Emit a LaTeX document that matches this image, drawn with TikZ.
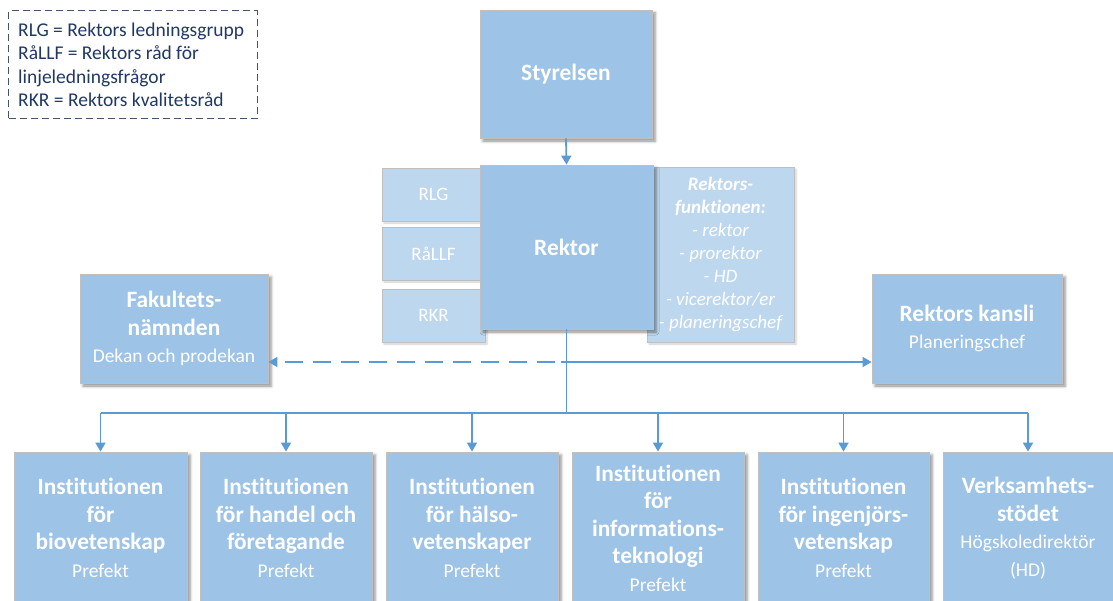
\documentclass[tikz,border=0pt]{standalone}
\usepackage{fontspec}
\setmainfont{Carlito}[Ligatures=NoCommon]
\usetikzlibrary{arrows.meta,shadows.blur}
\definecolor{mainblue}{HTML}{9DC3E6}
\definecolor{lightblue}{HTML}{BDD7EE}
\definecolor{boxline}{HTML}{BFBFBF}
\definecolor{arrowblue}{HTML}{5B9BD5}
\definecolor{legendline}{HTML}{44546A}
\definecolor{legendtext}{HTML}{1F3864}
\newcommand\hdfont{\fontsize{23.4bp}{27.5bp}\selectfont\bfseries}
\newcommand\subfont{\fontsize{19.5bp}{26bp}\selectfont\mdseries}
\newcommand\legfont{\fontsize{19.5bp}{23.5bp}\selectfont}
\newcommand\funkfont{\fontsize{19bp}{23bp}\selectfont\itshape}
\newcommand\smallbfont{\fontsize{19bp}{23bp}\selectfont}
\tikzset{
  boxshadow/.style={blur shadow={shadow xshift=3bp, shadow yshift=-3bp, shadow blur radius=3bp, shadow opacity=45}},
  mainbox/.style={draw=boxline, line width=0.8bp, fill=mainblue, boxshadow, text=white, align=center, inner sep=0, font=\hdfont},
  lightbox/.style={draw=boxline, line width=0.8bp, fill=lightblue, blur shadow={shadow xshift=2bp, shadow yshift=-2bp, shadow blur radius=2bp, shadow opacity=20}, text=white, align=center, inner sep=0, font=\smallbfont},
  conn/.style={draw=arrowblue, line width=1.8bp},
  tip/.style={-{Triangle[length=9bp,width=10bp]}},
}
\begin{document}
\begin{tikzpicture}[x=1bp,y=-1bp]
\useasboundingbox (0,0) rectangle (1113,601);
% legend
\node[draw=legendline, dash pattern=on 7bp off 4bp, line width=1bp, minimum width=248bp, minimum height=108bp, inner sep=0] (legbox) at (133,65) {};
\node[anchor=west, align=left, text=legendtext, font=\legfont, inner sep=0] (legtext) at (18,65) {RLG = Rektors ledningsgrupp\\RåLLF = Rektors råd för\\linjeledningsfrågor\\RKR = Rektors kvalitetsråd};
% top
\node[mainbox, minimum width=172bp, minimum height=128bp] (sty) at (566,74) {Styrelsen};
\node[lightbox, minimum width=103bp, minimum height=53bp] (rlg) at (433.5,194.5) {RLG};
\node[lightbox, minimum width=103bp, minimum height=53bp] (rallf) at (433.5,253.5) {RåLLF};
\node[lightbox, minimum width=103bp, minimum height=53bp] (rkr) at (433.5,315.5) {RKR};
\node[lightbox, minimum width=147bp, minimum height=175bp, font=\funkfont] (funk) at (720.5,254.5) {{\bfseries Rektors-}\\{\bfseries funktionen:}\\- rektor\\- prorektor\\- HD\\- vicerektor/er\\- planeringschef};
\node[mainbox, minimum width=173bp, minimum height=164bp] (rek) at (566.5,247) {Rektor};
% middle
\node[mainbox, minimum width=188bp, minimum height=109bp] (fak) at (174,328.5) {Fakultets-\\nämnden\\{\subfont Dekan och prodekan}};
\node[mainbox, minimum width=190bp, minimum height=109bp] (kan) at (967,328.5) {Rektors kansli\\{\subfont Planeringschef}};
% bottom
\node[mainbox, minimum width=173bp, minimum height=152bp] (b1) at (100.5,528) {Institutionen\\för\\biovetenskap\\{\subfont Prefekt}};
\node[mainbox, minimum width=172bp, minimum height=152bp] (b2) at (286,528) {Institutionen\\för handel och\\företagande\\{\subfont Prefekt}};
\node[mainbox, minimum width=172bp, minimum height=152bp] (b3) at (472,528) {Institutionen\\för hälso-\\vetenskaper\\{\subfont Prefekt}};
\node[mainbox, minimum width=172bp, minimum height=152bp] (b4) at (658,528) {Institutionen\\för\\informations-\\teknologi\\{\subfont Prefekt}};
\node[mainbox, minimum width=171bp, minimum height=152bp] (b5) at (843.5,528) {Institutionen\\för ingenjörs-\\vetenskap\\{\subfont Prefekt}};
\node[mainbox, minimum width=170bp, minimum height=152bp] (b6) at (1028,528) {Verksamhets-\\stödet\\{\subfont Högskoledirektör}\\{\subfont (HD)}};
% connectors
\draw[conn, tip] (sty.south) -- (rek.north);
\coordinate (bus) at (566.5,413);
\coordinate (hub) at (566.5,362);
\draw[conn] (rek.south) -- (bus);
\draw[conn] (b1.north |- bus) -- (b6.north |- bus);
\foreach \b in {b1,b2,b3,b4,b5,b6} \draw[conn, tip] (\b.north |- bus) -- (\b.north);
\draw[conn, tip, dash pattern=on 18bp off 10bp] ([xshift=-12bp]hub) -- (hub -| fak.east);
\draw[conn, tip] ([xshift=-6bp]hub) -- (hub -| kan.west);
\end{tikzpicture}
\end{document}
